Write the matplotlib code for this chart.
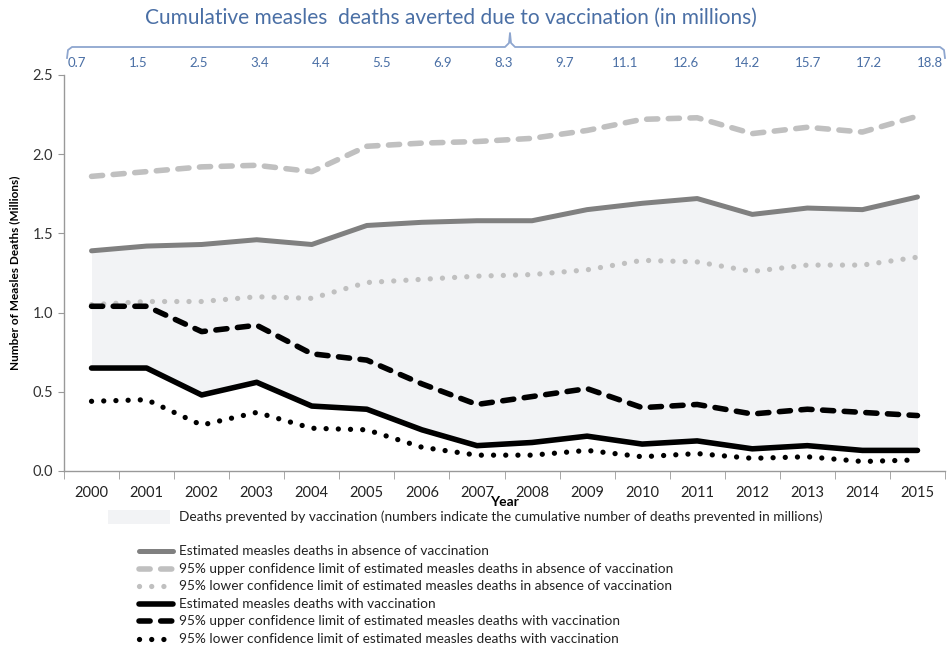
import matplotlib
matplotlib.use("Agg")
import matplotlib.pyplot as plt
from matplotlib.lines import Line2D
from matplotlib.patches import Rectangle
import numpy as np

plt.rcParams['font.family'] = ['Lato', 'DejaVu Sans']

years = [str(y) for y in range(2000, 2016)]
cumulative_averted = ["0.7", "1.5", "2.5", "3.4", "4.4", "5.5", "6.9", "8.3",
                      "9.7", "11.1", "12.6", "14.2", "15.7", "17.2", "18.8"]

no_vacc = [1.39, 1.42, 1.43, 1.46, 1.43, 1.55, 1.57, 1.58, 1.58, 1.65, 1.69, 1.72, 1.62, 1.66, 1.65, 1.73]
no_vacc_upper = [1.86, 1.89, 1.92, 1.93, 1.89, 2.05, 2.07, 2.08, 2.10, 2.15, 2.22, 2.23, 2.13, 2.17, 2.14, 2.24]
no_vacc_lower = [1.05, 1.07, 1.07, 1.10, 1.09, 1.19, 1.21, 1.23, 1.24, 1.27, 1.33, 1.32, 1.26, 1.30, 1.30, 1.35]
vacc = [0.65, 0.65, 0.48, 0.56, 0.41, 0.39, 0.26, 0.16, 0.18, 0.22, 0.17, 0.19, 0.14, 0.16, 0.13, 0.13]
vacc_upper = [1.04, 1.04, 0.88, 0.92, 0.74, 0.70, 0.55, 0.42, 0.47, 0.52, 0.40, 0.42, 0.36, 0.39, 0.37, 0.35]
vacc_lower = [0.44, 0.45, 0.29, 0.37, 0.27, 0.26, 0.15, 0.10, 0.10, 0.13, 0.09, 0.11, 0.08, 0.09, 0.06, 0.07]

labels = [
    "Estimated measles deaths in absence of vaccination",
    "95% upper confidence limit of estimated measles deaths in absence of vaccination",
    "95% lower confidence limit of estimated measles deaths in absence of vaccination",
    "Estimated measles deaths with vaccination",
    "95% upper confidence limit of estimated measles deaths with vaccination",
    "95% lower confidence limit of estimated measles deaths with vaccination",
]
fill_label = "Deaths prevented by vaccination (numbers indicate the cumulative number of deaths prevented in millions)"
title = "Cumulative measles  deaths averted due to vaccination (in millions)"

W, H = 948, 648
fig = plt.figure(figsize=(W / 100, H / 100), dpi=100)

def fx(px):
    return px / W

def fy(py):
    return 1 - py / H

ax = fig.add_axes([fx(64), fy(471), fx(945) - fx(64), fy(75) - fy(471)])

styles = [
    dict(color="#808080", lw=3.6, ls="-", solid_capstyle="round"),
    dict(color="#C0C0C0", lw=4.0, ls=(0, (2.0, 1.9)), dash_capstyle="round"),
    dict(color="#C0C0C0", lw=3.8, ls=(0, (0.01, 2.3)), dash_capstyle="round"),
    dict(color="#000000", lw=4.0, ls="-", solid_capstyle="round"),
    dict(color="#000000", lw=4.0, ls=(0, (2.0, 1.9)), dash_capstyle="round"),
    dict(color="#000000", lw=3.8, ls=(0, (0.01, 2.3)), dash_capstyle="round"),
]
series = [no_vacc, no_vacc_upper, no_vacc_lower, vacc, vacc_upper, vacc_lower]
x = np.arange(len(years))
fill_color = "#F2F3F5"
ax.fill_between(x, vacc, no_vacc, color=fill_color, lw=0, zorder=1)
for s, st in zip(series, styles):
    ax.plot(x, s, zorder=3, **st)

ax.set_xlim(-0.5, len(years) - 0.5)
ax.set_ylim(0, 2.5)
yt = np.arange(0, 2.51, 0.5)
ax.set_yticks(yt)
ax.set_yticklabels([f"{v:.1f}" for v in yt], fontsize=10.5, color="#333333")
ax.set_xticks(x)
ax.set_xticklabels(years, fontsize=10.5, color="#222222")
ax.set_xticks(np.arange(-0.5, len(years)), minor=True)
ax.tick_params(axis="x", which="major", length=0, pad=11)
ax.tick_params(axis="x", which="minor", length=6, color="#999999", direction="out")
ax.tick_params(axis="y", length=4, color="#999999", direction="out", pad=4)
for side in ["top", "right"]:
    ax.spines[side].set_visible(False)
for side in ["left", "bottom"]:
    ax.spines[side].set_color("#999999")
    ax.spines[side].set_linewidth(1.0)
ax.set_ylabel("Number of Measles Deaths (Millions)", fontsize=8.5, fontweight="bold", labelpad=9)
ax.set_xlabel("Year", fontsize=10, fontweight="bold", labelpad=-3)

blue = "#4A6FA5"
fig.text(fx(451), fy(18), title, ha="center", va="center", fontsize=15, color=blue)
xs_top = np.linspace(77, 930, len(cumulative_averted))
for xp, lab in zip(xs_top, cumulative_averted):
    fig.text(fx(xp), fy(63), lab, ha="center", va="center", fontsize=9.5, color=blue)

# curly brace
brace_pts = [(67, 58), (68, 50), (72, 47), (505, 47), (509, 43), (510, 33),
             (511, 43), (515, 47), (940, 47), (944, 50), (945, 58)]
bx = [fx(p[0]) for p in brace_pts]
by = [fy(p[1]) for p in brace_pts]
fig.add_artist(Line2D(bx, by, transform=fig.transFigure, color="#8EA6CF", lw=1.3))

# legend
fig.add_artist(Rectangle((fx(108), fy(524)), fx(170) - fx(108), fy(510) - fy(524),
                         transform=fig.transFigure, color=fill_color, lw=0))
fig.text(fx(179), fy(517), fill_label, ha="left", va="center", fontsize=9.8, color="#222222")
ys = [551, 569, 586, 604, 621, 639]
for yp, lab, st in zip(ys, labels, styles):
    fig.add_artist(Line2D([fx(139), fx(173)], [fy(yp), fy(yp)], transform=fig.transFigure, **st))
    fig.text(fx(179), fy(yp), lab, ha="left", va="center", fontsize=9.8, color="#222222")

fig.savefig("out.png", dpi=100)
